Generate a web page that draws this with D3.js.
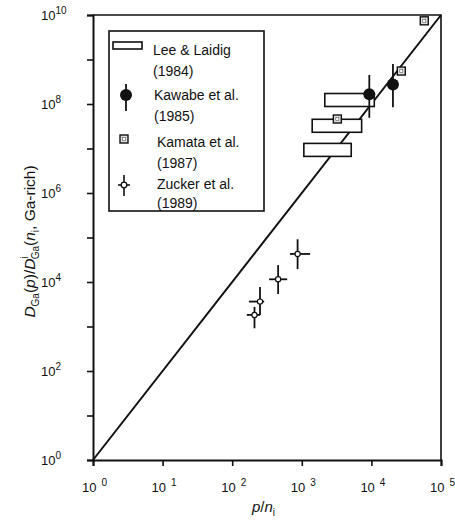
<!DOCTYPE html>
<html>
<head>
<meta charset="utf-8">
<script src="https://cdn.jsdelivr.net/npm/d3@7"></script>
<style>
  html, body { margin: 0; padding: 0; background: #fff; }
  svg text { font-family: "Liberation Sans", Arial, sans-serif; fill: #111; }
</style>
</head>
<body>
<svg id="chart" width="455" height="524"></svg>
<script>
// Lee & Laidig (1984): horizontal ranges
const leeXLo = [2140, 1410, 1070];
const leeXHi = [11000, 7240, 5130];
const leeY = [1.23e8, 3.24e7, 9.3e6];

// Kawabe et al. (1985)
const kawabeX = [9330, 20400];
const kawabeY = [1.66e8, 2.75e8];
const kawabeYLo = [4.9e7, 8.5e7];
const kawabeYHi = [4.5e8, 7.9e8];

// Kamata et al. (1987)
const kamataX = [57500, 26900, 3240];
const kamataY = [7.4e9, 5.5e8, 4.6e7];

// Zucker et al. (1989)
const zuckerX = [870, 457, 251, 209];
const zuckerY = [42700, 11500, 3630, 1820];
const zuckerXLo = [676, 339, 174, 162];
const zuckerXHi = [1318, 617, 288, 251];
const zuckerYLo = [19500, 5370, 1820, 912];
const zuckerYHi = [91200, 24000, 7760, 2750];

// slope-2 reference line
const lineX = [1, 1e5];
const lineY = [1, 1e10];

const xTicks = [1, 10, 100, 1e3, 1e4, 1e5];
const yTicks = [1, 10, 100, 1e3, 1e4, 1e5, 1e6, 1e7, 1e8, 1e9, 1e10];
const yLabelTicks = [1, 100, 1e4, 1e6, 1e8, 1e10];

const legendNames = ["Lee & Laidig", "Kawabe et al.", "Kamata et al.", "Zucker et al."];
const legendYears = ["(1984)", "(1985)", "(1987)", "(1989)"];

const margin = { top: 15, right: 14, bottom: 64, left: 93 };
const width = 455 - margin.left - margin.right;
const height = 524 - margin.top - margin.bottom;
const ink = "#111";

const svg = d3.select("#chart")
  .append("g")
  .attr("transform", `translate(${margin.left},${margin.top})`);

const x = d3.scaleLog().domain([1, 1e5]).range([0, width]);
const y = d3.scaleLog().domain([1, 1e10]).range([height, 0]);

// frame (top & right)
svg.append("path")
  .attr("d", `M0,0H${width}V${height}`)
  .attr("fill", "none").attr("stroke", ink).attr("stroke-width", 1.6);

// axes
const xAxis = svg.append("g")
  .attr("transform", `translate(0,${height})`)
  .call(d3.axisBottom(x).tickValues(xTicks).tickFormat("").tickSizeOuter(0).tickSize(6));
const yAxis = svg.append("g")
  .call(d3.axisLeft(y).tickValues(yTicks).tickFormat("").tickSizeOuter(0).tickSize(6));
[xAxis, yAxis].forEach(a => {
  a.select(".domain").attr("stroke", ink).attr("stroke-width", 2);
  a.selectAll(".tick line").attr("stroke", ink).attr("stroke-width", 1.6);
});

// tick labels
const xl = svg.append("g").selectAll("text").data(xTicks).enter().append("text")
  .attr("x", d => x(d) - 11)
  .attr("y", height + 32)
  .style("font-size", "13px");
xl.append("tspan").text("10");
xl.append("tspan").attr("dx", 5).attr("dy", -6).style("font-size", "10px").text(d => Math.round(Math.log10(d)));

const yl = svg.append("g").selectAll("text").data(yLabelTicks).enter().append("text")
  .attr("x", -52)
  .attr("y", d => y(d) + 5)
  .style("font-size", "13px");
yl.append("tspan").text("10");
yl.append("tspan").attr("dy", -6).style("font-size", "10px").text(d => Math.round(Math.log10(d)));

// axis titles
const xt = svg.append("text")
  .attr("x", 252 - margin.left)
  .attr("y", height + 52)
  .style("font-size", "15px");
xt.append("tspan").style("font-style", "italic").text("p");
xt.append("tspan").text("/");
xt.append("tspan").style("font-style", "italic").text("n");
xt.append("tspan").attr("dy", 4).style("font-size", "10px").text("i");

const yt = svg.append("text")
  .attr("transform", `translate(${-58},${height / 2 + 4}) rotate(-90)`)
  .attr("text-anchor", "middle")
  .style("font-size", "15.5px");
yt.append("tspan").style("font-style", "italic").text("D");
yt.append("tspan").attr("dy", 4).style("font-size", "10px").text("Ga");
yt.append("tspan").attr("dy", -4).text("(");
yt.append("tspan").style("font-style", "italic").text("p");
yt.append("tspan").text(")/");
yt.append("tspan").style("font-style", "italic").text("D");
yt.append("tspan").attr("dy", -7).style("font-size", "10px").text("i");
yt.append("tspan").attr("dx", -3).attr("dy", 11).style("font-size", "10px").text("Ga");
yt.append("tspan").attr("dy", -4).text("(");
yt.append("tspan").style("font-style", "italic").text("n");
yt.append("tspan").attr("dy", 4).style("font-size", "10px").text("i");
yt.append("tspan").attr("dy", -4).text(", Ga-rich)");

// reference line
svg.append("line")
  .attr("x1", x(lineX[0])).attr("y1", y(lineY[0]))
  .attr("x2", x(lineX[1])).attr("y2", y(lineY[1]))
  .attr("stroke", ink).attr("stroke-width", 2);

// Lee & Laidig boxes
const boxH = 13;
svg.append("g").selectAll("rect").data(leeY).enter().append("rect")
  .attr("x", (d, i) => x(leeXLo[i]))
  .attr("width", (d, i) => x(leeXHi[i]) - x(leeXLo[i]))
  .attr("y", d => y(d) - boxH / 2)
  .attr("height", boxH)
  .attr("fill", "#fff").attr("stroke", ink).attr("stroke-width", 1.6);

// Kawabe
const kaw = svg.append("g").selectAll("g").data(kawabeY).enter().append("g");
kaw.append("line")
  .attr("x1", (d, i) => x(kawabeX[i])).attr("x2", (d, i) => x(kawabeX[i]))
  .attr("y1", (d, i) => y(kawabeYLo[i])).attr("y2", (d, i) => y(kawabeYHi[i]))
  .attr("stroke", ink).attr("stroke-width", 1.8);
kaw.append("circle")
  .attr("cx", (d, i) => x(kawabeX[i])).attr("cy", d => y(d))
  .attr("r", 6).attr("fill", ink);

// Kamata
function kamataMark(g, cx, cy) {
  g.append("rect").attr("x", cx - 4).attr("y", cy - 4).attr("width", 8).attr("height", 8)
    .attr("fill", "#ddd").attr("stroke", ink).attr("stroke-width", 1.4);
  g.append("rect").attr("x", cx - 1.5).attr("y", cy - 1.5).attr("width", 3).attr("height", 3)
    .attr("fill", "#fff").attr("stroke", "#555").attr("stroke-width", 0.6);
}
kamataY.forEach((d, i) => kamataMark(svg.append("g"), x(kamataX[i]), y(d)));

// Zucker
const zuc = svg.append("g").selectAll("g").data(zuckerY).enter().append("g");
zuc.append("line")
  .attr("x1", (d, i) => x(zuckerX[i])).attr("x2", (d, i) => x(zuckerX[i]))
  .attr("y1", (d, i) => y(zuckerYLo[i])).attr("y2", (d, i) => y(zuckerYHi[i]))
  .attr("stroke", ink).attr("stroke-width", 1.8);
zuc.append("line")
  .attr("x1", (d, i) => x(zuckerXLo[i])).attr("x2", (d, i) => x(zuckerXHi[i]))
  .attr("y1", d => y(d)).attr("y2", d => y(d))
  .attr("stroke", ink).attr("stroke-width", 1.8);
zuc.append("circle")
  .attr("cx", (d, i) => x(zuckerX[i])).attr("cy", d => y(d))
  .attr("r", 2.6).attr("fill", "#fff").attr("stroke", ink).attr("stroke-width", 1.2);

// legend
const lg = svg.append("g").attr("transform", `translate(${109 - margin.left},${31 - margin.top})`);
lg.append("rect").attr("width", 155).attr("height", 180)
  .attr("fill", "#fff").attr("stroke", ink).attr("stroke-width", 1.6);

const rowY = [19, 64, 108, 154];
lg.append("rect").attr("x", 4).attr("y", rowY[0] - 8).attr("width", 29).attr("height", 7)
  .attr("fill", "#fff").attr("stroke", ink).attr("stroke-width", 1.6);
lg.append("line").attr("x1", 17).attr("x2", 17).attr("y1", rowY[1] - 11).attr("y2", rowY[1] + 16)
  .attr("stroke", ink).attr("stroke-width", 1.8);
lg.append("circle").attr("cx", 17).attr("cy", rowY[1]).attr("r", 6).attr("fill", ink);
kamataMark(lg, 15, rowY[2]);
lg.append("line").attr("x1", 15).attr("x2", 15).attr("y1", rowY[3] - 10).attr("y2", rowY[3] + 11)
  .attr("stroke", ink).attr("stroke-width", 1.6);
lg.append("line").attr("x1", 9).attr("x2", 21).attr("y1", rowY[3]).attr("y2", rowY[3])
  .attr("stroke", ink).attr("stroke-width", 1.6);
lg.append("circle").attr("cx", 15).attr("cy", rowY[3]).attr("r", 2.8)
  .attr("fill", "#fff").attr("stroke", ink).attr("stroke-width", 1.3);

const textX = [44, 45, 48, 48];
const textY = [24, 69, 116, 158];
legendNames.forEach((n, i) => {
  const t = lg.append("text").attr("x", textX[i]).attr("y", textY[i]).style("font-size", "14px");
  t.append("tspan").text(n);
  t.append("tspan").attr("x", textX[i]).attr("dy", i === 3 ? 19 : 21).text(legendYears[i]);
});
</script>
</body>
</html>
